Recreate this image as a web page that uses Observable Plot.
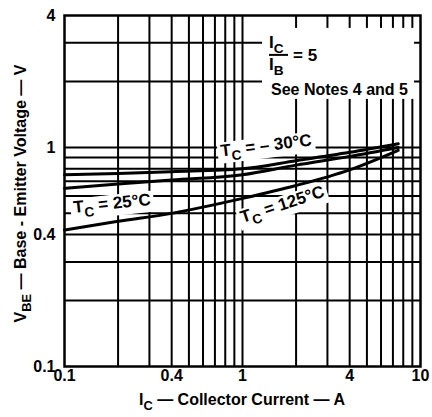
<!DOCTYPE html>
<html><head><meta charset="utf-8">
<script src="https://cdn.jsdelivr.net/npm/d3@7"></script>
<script src="https://cdn.jsdelivr.net/npm/@observablehq/plot@0.6"></script>
<style>html,body{margin:0;padding:0;background:#fff;}</style>
</head><body><div id="chart"></div>
<script>
const FONT = "'Liberation Sans', Arial, Helvetica, sans-serif";

// Collector current (A) sample points and base-emitter voltage (V) per case temperature
const ic      = [0.1, 0.2, 0.4, 1, 2, 4, 7.5];
const vbeM30  = [0.75, 0.76, 0.775, 0.80, 0.87, 0.95, 1.04];
const vbe25   = [0.65, 0.68, 0.71, 0.75, 0.83, 0.91, 1.0];
const vbe125  = [0.42, 0.46, 0.50, 0.585, 0.67, 0.79, 0.97];
const seriesNames = ["-30", "25", "125"];

const xTicks = [0.1, 0.4, 1, 4, 10];
const xTickLabels = ["0.1", "0.4", "1", "4", "10"];
const yTicks = [0.1, 0.4, 1, 4];
const yTickLabels = ["0.1", "0.4", "1", "4"];
const xGrid = [0.2, 0.3, 0.4, 0.5, 0.6, 0.7, 0.8, 0.9, 1, 2, 3, 4, 5, 6, 7, 8, 9];
const yGrid = [0.2, 0.3, 0.4, 0.5, 0.6, 0.7, 0.8, 0.9, 1, 2, 3];

const curveLabels = [
  {base: "T", sub: "C", rest: " = \u2013 30\u00B0C", x: 1.364, y: 1.02, rotate: -7},
  {base: "T", sub: "C", rest: " = 25\u00B0C", x: 0.186, y: 0.555, rotate: -6},
  {base: "T", sub: "C", rest: " = 125\u00B0C", x: 1.68, y: 0.549, rotate: -18}
];
const ratioAnchor = {x: 1.418, y: 2.63};
const ratioNum = ["I", "C"];
const ratioDen = ["I", "B"];
const ratioEq = "= 5";
const ratioNote = "See Notes 4 and 5";
const xTitle = ["I", "C", " \u2014 Collector Current \u2014 A"];
const yTitle = ["V", "BE", " \u2014 Base - Emitter Voltage \u2014 V"];

const rows = [];
[vbeM30, vbe25, vbe125].forEach((vals, k) => {
  ic.forEach((x, i) => rows.push({x, y: vals[i], s: seriesNames[k]}));
});

const lookup = (ticks, labels) => d => {
  let best = 0;
  ticks.forEach((t, i) => { if (Math.abs(Math.log(t) - Math.log(d)) < Math.abs(Math.log(ticks[best]) - Math.log(d))) best = i; });
  return labels[best];
};

const chart = Plot.plot({
  width: 432, height: 417,
  marginLeft: 64, marginRight: 12, marginTop: 15, marginBottom: 51,
  style: {fontFamily: FONT, fontSize: "16px", fontWeight: "bold", background: "white", color: "black", overflow: "visible"},
  x: {type: "log", domain: [0.1, 10]},
  y: {type: "log", domain: [0.1, 4]},
  marks: [
    Plot.ruleX(xGrid, {stroke: "black", strokeWidth: 2}),
    Plot.ruleY(yGrid, {stroke: "black", strokeWidth: 2}),
    Plot.line(rows, {x: "x", y: "y", z: "s", stroke: "black", strokeWidth: 3, curve: "monotone-x"}),
    Plot.frame({stroke: "black", strokeWidth: 2.5}),
    Plot.axisX({ticks: xTicks, tickSize: 0, tickPadding: 3, tickFormat: lookup(xTicks, xTickLabels), label: null}),
    Plot.axisY({ticks: yTicks, tickSize: 0, tickPadding: 9, tickFormat: lookup(yTicks, yTickLabels), label: null})
  ]
});
document.getElementById("chart").appendChild(chart);

const svg = d3.select(chart);
const X = v => chart.scale("x").apply(v);
const Y = v => chart.scale("y").apply(v);
const annot = svg.append("g").attr("font-family", FONT).attr("font-weight", "bold").attr("fill", "black").attr("text-anchor", "start");

function addSub(text, base, sub, rest, fs) {
  text.append("tspan").text(base);
  text.append("tspan").attr("font-size", fs * 0.8).attr("dy", fs * 0.3).text(sub);
  if (rest) text.append("tspan").attr("dy", -fs * 0.3).text(rest);
}

// curve labels with white backgrounds
curveLabels.forEach(d => {
  const g = annot.append("g").attr("transform", `translate(${X(d.x)},${Y(d.y)}) rotate(${d.rotate})`);
  const rect = g.append("rect").attr("fill", "white");
  const t = g.append("text").attr("text-anchor", "middle").attr("font-size", 17).attr("y", 6);
  addSub(t, d.base, d.sub, d.rest, 17);
  const bb = t.node().getBBox();
  rect.attr("x", bb.x - 3).attr("y", bb.y + 1).attr("width", bb.width + 6).attr("height", bb.height - 2);
});

// ratio block
{
  const ax = X(ratioAnchor.x), ay = Y(ratioAnchor.y);
  const rg = annot.append("g");
  const rect = rg.append("rect").attr("fill", "white");
  const inner = rg.append("g");
  const n = inner.append("text").attr("x", ax).attr("y", ay - 7).attr("font-size", 17);
  addSub(n, ratioNum[0], ratioNum[1], null, 17);
  inner.append("line").attr("x1", ax).attr("x2", ax + 19).attr("y1", ay).attr("y2", ay).attr("stroke", "black").attr("stroke-width", 2);
  const dn = inner.append("text").attr("x", ax).attr("y", ay + 15).attr("font-size", 17);
  addSub(dn, ratioDen[0], ratioDen[1], null, 17);
  inner.append("text").attr("x", ax + 24).attr("y", ay + 6).attr("font-size", 17).text(ratioEq);
  inner.append("text").attr("x", ax + 2).attr("y", ay + 40).attr("font-size", 16).text(ratioNote);
  const bb = inner.node().getBBox();
  rect.attr("x", bb.x - 7).attr("y", bb.y - 5).attr("width", bb.width + 13).attr("height", bb.height + 6);
}

// axis titles
{
  const cx = (X(0.1) + X(10)) / 2;
  const t = annot.append("text").attr("x", cx).attr("y", Y(0.1) + 39).attr("text-anchor", "middle").attr("font-size", 16);
  addSub(t, xTitle[0], xTitle[1], xTitle[2], 16);
  const cy = (Y(0.1) + Y(4)) / 2 + 3;
  const ty = annot.append("text").attr("transform", `translate(26,${cy}) rotate(-90)`).attr("text-anchor", "middle")
    .attr("font-size", 16).attr("textLength", 258).attr("lengthAdjust", "spacingAndGlyphs");
  addSub(ty, yTitle[0], yTitle[1], yTitle[2], 16);
}

svg.selectAll('g[aria-label="line"]').raise();
svg.selectAll('[aria-label="frame"]').raise();
</script>
</body></html>
